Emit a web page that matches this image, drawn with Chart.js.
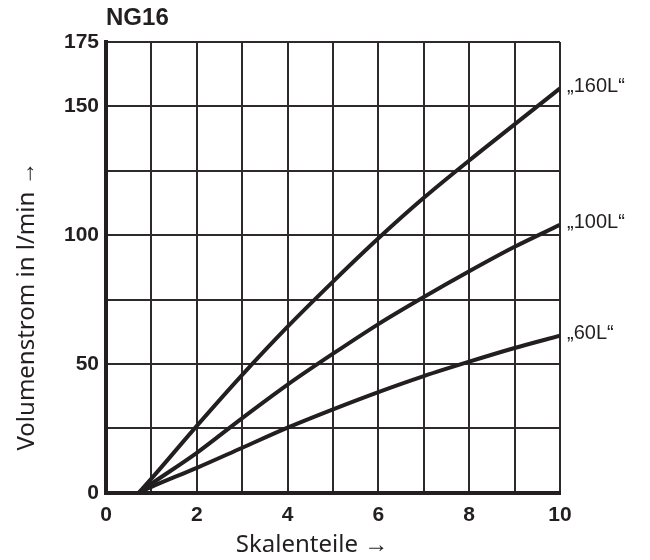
<!DOCTYPE html>
<html>
<head>
<meta charset="utf-8">
<script src="https://cdn.jsdelivr.net/npm/chart.js@4/dist/chart.umd.min.js"></script>
<style>
  html, body { margin: 0; padding: 0; background: #fff; }
  #wrap { width: 650px; height: 560px; }
</style>
</head>
<body>
<div id="wrap"><canvas id="chart"></canvas></div>
<script>
'use strict';

// Skalenteile (x)
const skalenteile = [0.72, 1, 2, 3, 4, 5, 6, 7, 8, 9, 10];
// Volumenstrom in l/min
const kurve160L = [0, 5.5, 26, 45.8, 64.5, 82, 98.8, 114.5, 129, 143, 157];
const kurve100L = [0, 3.5, 15.5, 29, 42, 54, 65.5, 76, 86, 95.5, 104];
const kurve60L = [0, 2.3, 9.7, 17.5, 25.3, 32.4, 39.1, 45.3, 50.9, 56.2, 61];
const kurvenNamen = ['„160L“', '„100L“', '„60L“'];
const yBeschriftung = [0, 50, 100, 150, 175];

const dunkel = '#231f20';
const schrift = '"Liberation Sans", Arial, sans-serif';
const titelSchrift = '24px "Noto Sans", sans-serif';

function punkte(werte) {
    return werte.map((v, i) => ({ x: skalenteile[i], y: v }));
}

// Beschriftung rechts, Titel und Achsentitel
const beschriftungPlugin = {
    id: 'beschriftung',
    afterDatasetsDraw(chart) {
        const ctx = chart.ctx;
        const xs = chart.scales.x;
        const ys = chart.scales.y;
        ctx.save();
        ctx.fillStyle = dunkel;
        ctx.font = '20px ' + schrift;
        ctx.textBaseline = 'middle';
        ctx.textAlign = 'left';
        chart.data.datasets.forEach((ds, i) => {
            const last = ds.data[ds.data.length - 1];
            ctx.fillText(kurvenNamen[i], xs.getPixelForValue(last.x) + 7, ys.getPixelForValue(last.y) - 2);
        });
        ctx.font = 'bold 24px ' + schrift;
        ctx.textBaseline = 'alphabetic';
        ctx.fillText('NG16', chart.chartArea.left, 25);

        // Achsentitel
        ctx.font = titelSchrift;
        ctx.textAlign = 'center';
        ctx.textBaseline = 'middle';
        ctx.fillText('Skalenteile →', 312, 545);
        ctx.translate(27, 306);
        ctx.rotate(-Math.PI / 2);
        ctx.fillText('Volumenstrom in l/min →', 0, 0);
        ctx.restore();
    }
};

const ctx = document.getElementById('chart').getContext('2d');
const linie = { borderColor: dunkel, borderWidth: 4, pointRadius: 0, fill: false, showLine: true, cubicInterpolationMode: 'monotone' };

// eslint-disable-next-line no-unused-vars
let diagramm = new Chart(ctx, {
    type: 'scatter',
    data: {
        datasets: [
            Object.assign({ label: kurvenNamen[0], data: punkte(kurve160L) }, linie),
            Object.assign({ label: kurvenNamen[1], data: punkte(kurve100L) }, linie),
            Object.assign({ label: kurvenNamen[2], data: punkte(kurve60L) }, linie)
        ]
    },
    options: {
        responsive: true,
        maintainAspectRatio: false,
        animation: false,
        layout: { padding: { top: 42, right: 90, left: 57, bottom: 22 } },
        plugins: {
            legend: { display: false },
            tooltip: { enabled: false }
        },
        scales: {
            x: {
                type: 'linear',
                min: 0,
                max: 10,
                ticks: {
                    stepSize: 1,
                    color: dunkel,
                    padding: 10,
                    maxRotation: 0,
                    font: { family: schrift, size: 21, weight: 'bold' },
                    callback: v => (v % 2 === 0 ? v : '')
                },
                grid: { color: '#2e2a2b', lineWidth: 2, drawTicks: false },
                border: { color: dunkel, width: 4 }
            },
            y: {
                min: 0,
                max: 175,
                ticks: {
                    stepSize: 25,
                    color: dunkel,
                    padding: 7,
                    font: { family: schrift, size: 21, weight: 'bold' },
                    callback: v => (yBeschriftung.includes(v) ? v : '')
                },
                grid: { color: '#2e2a2b', lineWidth: 2, drawTicks: false },
                border: { color: dunkel, width: 4 }
            }
        }
    },
    plugins: [beschriftungPlugin]
});
</script>
</body>
</html>
